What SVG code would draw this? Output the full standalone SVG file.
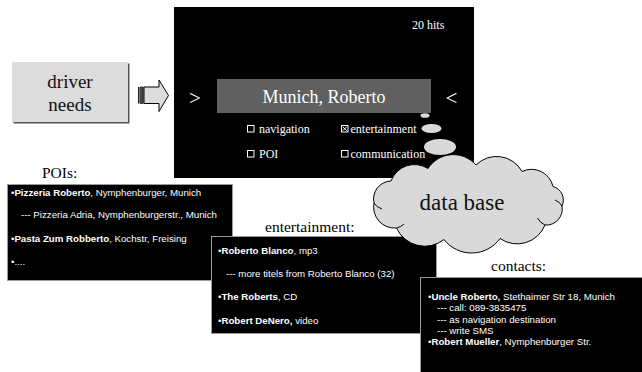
<svg xmlns="http://www.w3.org/2000/svg" width="642" height="372" viewBox="0 0 642 372">
<style>
.serif{font-family:"Liberation Serif","Times New Roman",serif;}
.sans{font-family:"Liberation Sans",Arial,sans-serif;font-size:9.7px;fill:#fff;}
.b{font-weight:bold;}
.lbl{font-size:15.5px;fill:#000;}
.scr{font-size:12px;fill:#fff;}
.box{fill:#000;stroke:#9a9a9a;stroke-width:1;}
.cb{fill:none;stroke:#fff;stroke-width:1;}
.gray{fill:#d9d9d9;}
</style>
<rect width="642" height="372" fill="#fff"/>

<g id="driver-needs">
  <rect x="13.5" y="63.5" width="116" height="60" fill="#555"/>
  <rect x="12" y="62" width="116" height="60" fill="#dcdcdc"/>
  <text class="serif" x="70" y="88" font-size="19" text-anchor="middle" fill="#111">driver</text>
  <text class="serif" x="70" y="111" font-size="19" text-anchor="middle" fill="#111">needs</text>
</g>

<g id="screen">
  <rect x="174" y="7" width="300" height="171" fill="#000"/>
  <text class="serif scr" x="412" y="29">20 hits</text>
  <rect x="217" y="79" width="214" height="34" fill="#606060"/>
  <text class="serif" x="324" y="103" font-size="18" fill="#fff" text-anchor="middle">Munich, Roberto</text>
  <text class="serif" x="195" y="104.5" font-size="21" fill="#fff" text-anchor="middle">&gt;</text>
  <text class="serif" x="451.5" y="104.5" font-size="21" fill="#fff" text-anchor="middle">&lt;</text>
  <rect class="cb" x="247.5" y="125.5" width="6.5" height="6.5"/>
  <text class="serif scr" x="259" y="133">navigation</text>
  <rect class="cb" x="341.5" y="125.5" width="6.5" height="6.5"/>
  <path d="M342.8,126.8 L346.7,130.7 M346.7,126.8 L342.8,130.7" stroke="#fff" stroke-width="1"/>
  <text class="serif scr" x="350.5" y="133">entertainment</text>
  <rect class="cb" x="247.5" y="150.5" width="6.5" height="6.5"/>
  <text class="serif scr" x="259" y="157.5">POI</text>
  <rect class="cb" x="341.5" y="150.5" width="6.5" height="6.5"/>
  <text class="serif scr" x="350.5" y="157.5">communication</text>
</g>

<g id="pois">
  <text class="serif lbl" x="42" y="178">POIs:</text>
  <rect class="box" x="7.5" y="184.5" width="225" height="96"/>
  <text class="sans" x="11" y="196">•<tspan class="b">Pizzeria Roberto</tspan>, Nymphenburger, Munich</text>
  <text class="sans" x="21" y="218">--- Pizzeria Adria, Nymphenburgerstr., Munich</text>
  <text class="sans" x="11" y="242">•<tspan class="b">Pasta Zum Robberto</tspan>, Kochstr, Freising</text>
  <text class="sans" x="11" y="265">•....</text>
</g>

<g id="entertainment">
  <text class="serif lbl" x="265" y="232">entertainment:</text>
  <rect class="box" x="211.5" y="236.5" width="225" height="97"/>
  <text class="sans" x="218" y="254">•<tspan class="b">Roberto Blanco</tspan>, mp3</text>
  <text class="sans" x="226" y="277">--- more titels from Roberto Blanco (32)</text>
  <text class="sans" x="218" y="300">•<tspan class="b">The Roberts</tspan>, CD</text>
  <text class="sans" x="218" y="324">•<tspan class="b">Robert DeNero,</tspan> video</text>
</g>

<g id="contacts">
  <text class="serif lbl" x="491" y="271">contacts:</text>
  <rect class="box" x="420.5" y="277.5" width="225" height="100"/>
  <text class="sans" x="428" y="300">•<tspan class="b">Uncle Roberto,</tspan> Stethaimer Str 18, Munich</text>
  <text class="sans" x="437" y="311.3">--- call: 089-3835475</text>
  <text class="sans" x="437" y="322.6">--- as navigation destination</text>
  <text class="sans" x="437" y="333.9">--- write SMS</text>
  <text class="sans" x="428" y="345.2">•<tspan class="b">Robert Mueller</tspan>, Nymphenburger Str.</text>
</g>

<g id="connectors">
  <g id="arrow">
    <rect x="138" y="87" width="1.6" height="16.5" fill="#222"/>
    <rect x="140.6" y="87" width="2.6" height="16.5" fill="#444" stroke="#000" stroke-width="0.6"/>
    <path d="M144,87 L159,87 L159,80 L168.5,95.5 L159,111.5 L159,103.5 L144,103.5 Z" fill="#dcdcdc" stroke="#000" stroke-width="1"/>
  </g>
  <g id="thought-bubbles">
    <ellipse class="gray" cx="425" cy="115.5" rx="4.5" ry="2.3"/>
    <ellipse class="gray" cx="431.5" cy="128.5" rx="10" ry="4.5"/>
    <ellipse class="gray" cx="440" cy="147" rx="16" ry="8"/>
  </g>
</g>

<g id="data-base">
  <path class="gray" stroke="#000" stroke-width="1" d="M374,203 A18,18 0 0 1 391,181 A25,25 0 0 1 428,168.5 A30,30 0 0 1 476,165 A29,29 0 0 1 522,171.5 A22,22 0 0 1 553,186.5 A14,14 0 0 1 562,206 A16,16 0 0 1 545,225 A30,30 0 0 1 500,238.5 A35,35 0 0 1 444,239.5 A31,31 0 0 1 396.5,228 A21,21 0 0 1 374,203 Z"/>
  <path d="M374,203 A14,14 0 0 0 382,209 M562,206 A14,14 0 0 0 555,200 M545,225 A16,16 0 0 1 537.5,218 M396.5,228 A14,14 0 0 0 404,224" fill="none" stroke="#000" stroke-width="1"/>
  <text class="serif" x="462" y="210" font-size="23" text-anchor="middle" fill="#111">data base</text>
</g>
</svg>
